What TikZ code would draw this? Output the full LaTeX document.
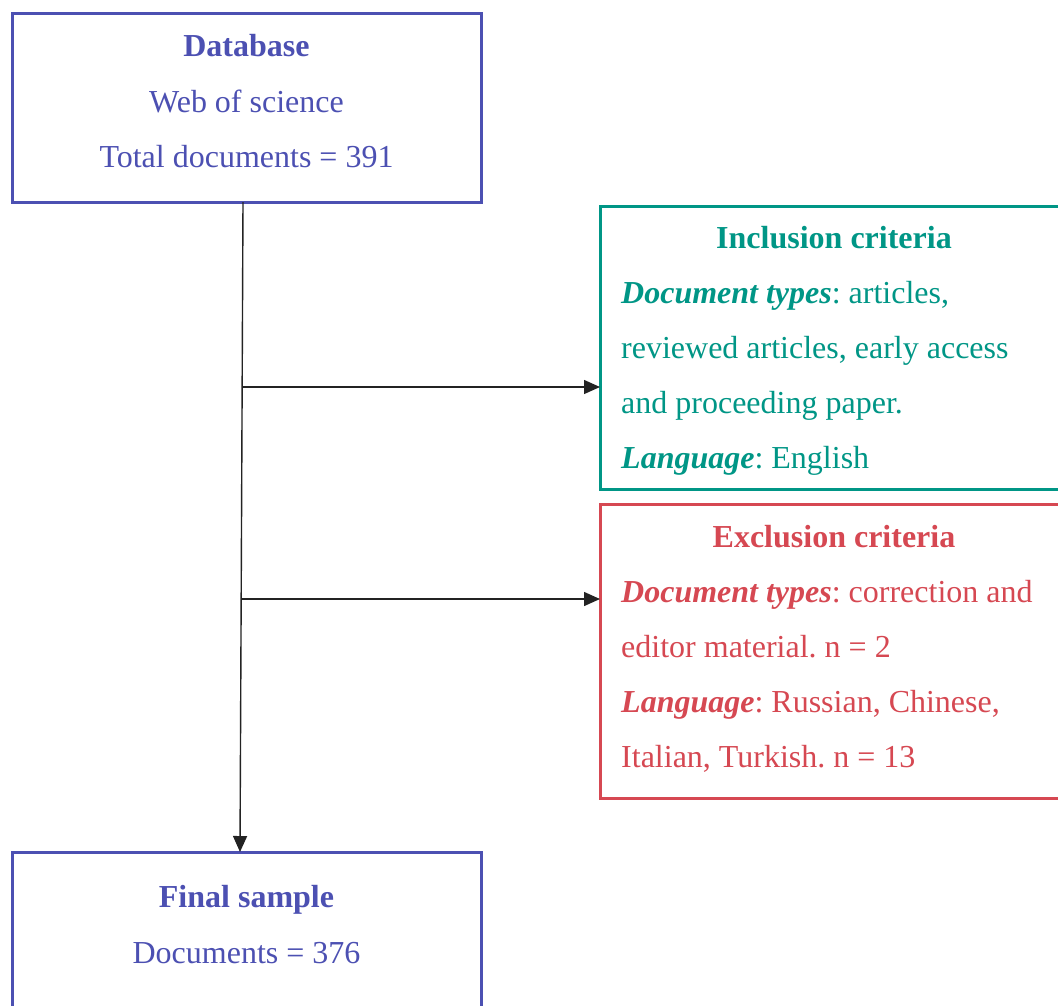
\documentclass[tikz,border=0pt]{standalone}
\usepackage{fontspec}
\setmainfont{Liberation Serif}
\usetikzlibrary{arrows.meta}
\frenchspacing

\definecolor{dbblue}{RGB}{76,80,178}
\definecolor{incteal}{RGB}{0,150,134}
\definecolor{excred}{RGB}{214,72,82}
\definecolor{linkgray}{RGB}{35,35,35}

\tikzset{
  box/.style={draw, line width=3pt, rectangle, inner sep=0pt, outer sep=0pt, fill=white},
  txt/.style={anchor=base, inner sep=0pt, font=\fontsize{32}{38}\selectfont},
  ltxt/.style={anchor=base west, inner sep=0pt, font=\fontsize{32}{38}\selectfont},
  link/.style={draw=linkgray, line width=1.4pt, -{Triangle[length=16pt,width=14pt]}}
}

\begin{document}
\begin{tikzpicture}[x=1pt, y=-1pt]
  \useasboundingbox (0,0) rectangle (1058,1005);
  \clip (0,0) rectangle (1058,1005);

  % boxes
  \node[box, draw=dbblue, minimum width=469pt, minimum height=189pt] (db) at (246.5,107.5) {};
  \node[box, draw=incteal, minimum width=468pt, minimum height=283pt] (incl) at (834,347.5) {};
  \node[box, draw=excred, minimum width=468pt, minimum height=294pt] (excl) at (834,651) {};
  \node[box, draw=dbblue, minimum width=469pt, minimum height=210pt] (final) at (246.5,957) {};

  % database text
  \node[txt, text=dbblue, font=\fontsize{32}{38}\selectfont\bfseries] (dbt) at (246.5,56) {Database};
  \node[txt, text=dbblue] (dbw) at (246.5,112) {Web of science};
  \node[txt, text=dbblue] (dbn) at (246.5,167) {Total documents = 391};

  % inclusion text
  \node[txt, text=incteal, font=\fontsize{32}{38}\selectfont\bfseries] (inct) at (834,248) {Inclusion criteria};
  \node[ltxt, text=incteal] (inc1) at (621,303) {\textbf{\textit{Document types}}: articles,};
  \node[ltxt, text=incteal] (inc2) at (621,358) {reviewed articles, early access};
  \node[ltxt, text=incteal] (inc3) at (621,413) {and proceeding paper.};
  \node[ltxt, text=incteal] (inc4) at (621,468) {\textbf{\textit{Language}}: English};

  % exclusion text
  \node[txt, text=excred, font=\fontsize{32}{38}\selectfont\bfseries] (exct) at (834,547) {Exclusion criteria};
  \node[ltxt, text=excred] (exc1) at (621,602) {\textbf{\textit{Document types}}: correction and};
  \node[ltxt, text=excred] (exc2) at (621,657) {editor material. n = 2};
  \node[ltxt, text=excred] (exc3) at (621,712) {\textbf{\textit{Language}}: Russian, Chinese,};
  \node[ltxt, text=excred] (exc4) at (621,767) {Italian, Turkish. n = 13};

  % final sample text
  \node[txt, text=dbblue, font=\fontsize{32}{38}\selectfont\bfseries] (fint) at (246.5,907) {Final sample};
  \node[txt, text=dbblue] (finn) at (246.5,963) {Documents = 376};

  % connectors
  \coordinate (b1) at (243,387);
  \coordinate (b2) at (242,599);
  \draw[link] ([xshift=-3.5pt]db.south) -- ([xshift=-6.5pt]final.north);
  \draw[link] (b1) -- (b1 -| incl.west);
  \draw[link] (b2) -- (b2 -| excl.west);
\end{tikzpicture}
\end{document}
